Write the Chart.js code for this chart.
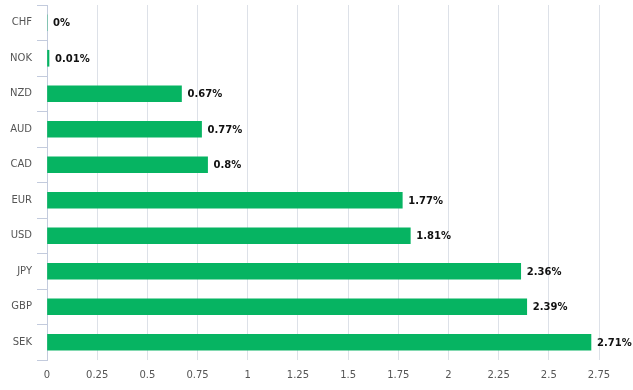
<!DOCTYPE html>
<html>
<head>
<meta charset="utf-8">
<script src="https://cdn.jsdelivr.net/npm/chart.js@4/dist/chart.umd.min.js"></script>
<style>
    body { margin: 0; background: #fff; }
    canvas { display: block; }
</style>
</head>
<body>
<canvas id="change-chart" width="633" height="390"></canvas>
<script>
const currencies = ['CHF', 'NOK', 'NZD', 'AUD', 'CAD', 'EUR', 'USD', 'JPY', 'GBP', 'SEK'];
const changes = [0, 0.01, 0.67, 0.77, 0.8, 1.77, 1.81, 2.36, 2.39, 2.71];
const xTicks = [0, 0.25, 0.5, 0.75, 1, 1.25, 1.5, 1.75, 2, 2.25, 2.5, 2.75];

const valueLabels = {
    id: 'valueLabels',
    afterDatasetsDraw(chart) {
        const ctx = chart.ctx;
        const meta = chart.getDatasetMeta(0);
        ctx.save();
        ctx.font = 'bold 10px "DejaVu Sans"';
        ctx.fillStyle = '#111';
        ctx.textAlign = 'left';
        ctx.textBaseline = 'middle';
        meta.data.forEach((bar, i) => {
            ctx.fillText(changes[i] + '%', bar.x + 6, bar.y + 1);
        });
        ctx.restore();
    }
};

const changeChart = document.getElementById('change-chart');

let changeGraph = new Chart(changeChart, {
    type: 'bar',
    data: {
        labels: currencies,
        datasets: [{
            data: changes,
            backgroundColor: '#06b462',
            borderWidth: 0,
            barThickness: 16
        }]
    },
    options: {
        responsive: false,
        animation: false,
        indexAxis: 'y',
        layout: {
            padding: { top: 5, right: 34, bottom: 0, left: 0 }
        },
        plugins: {
            legend: { display: false },
            tooltip: { enabled: false }
        },
        scales: {
            x: {
                min: 0,
                max: 2.75,
                afterBuildTicks: (axis) => {
                    axis.ticks = xTicks.map(v => ({ value: v }));
                },
                grid: {
                    color: '#dde1e8',
                    drawTicks: false
                },
                border: { display: false },
                ticks: {
                    color: '#555',
                    padding: 9,
                    font: { family: 'DejaVu Sans', size: 10 },
                    callback: (value) => String(value)
                }
            },
            y: {
                afterFit: (axis) => {
                    axis.width = 47;
                    axis.paddingTop = 0;
                    axis.paddingBottom = 0;
                },
                grid: {
                    offset: true,
                    drawOnChartArea: false,
                    color: '#c3cbdd',
                    tickLength: 10
                },
                border: { color: '#c3cbdd' },
                ticks: {
                    color: '#555',
                    padding: 5,
                    font: { family: 'DejaVu Sans', size: 10 }
                }
            }
        }
    },
    plugins: [valueLabels]
});
</script>
</body>
</html>
